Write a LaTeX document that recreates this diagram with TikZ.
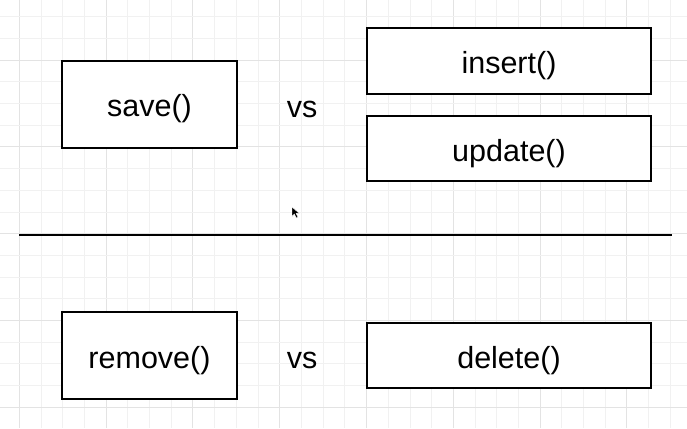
\documentclass[tikz,border=0pt]{standalone}
\usepackage{fontspec}
\setmainfont{Liberation Sans}
\definecolor{gridminor}{HTML}{F1F1F1}
\definecolor{gridmajor}{HTML}{E3E3E3}
\tikzset{
  box/.style={draw=black, line width=2pt, rectangle, inner sep=0pt, text height=25pt, text depth=0pt, font=\fontsize{30.5}{34}\selectfont},
  smallbox/.style={box, minimum width=175pt, minimum height=87pt},
  widebox/.style={box, minimum width=284pt, minimum height=65pt},
  vslabel/.style={inner sep=0pt, font=\fontsize{30.5}{34}\selectfont},
  minorline/.style={draw=gridminor, line width=0.8pt},
  majorline/.style={draw=gridmajor, line width=0.9pt},
  divider/.style={draw=black, line width=2pt}
}
\begin{document}
\begin{tikzpicture}[x=1pt,y=-1pt]
\useasboundingbox (0,0) rectangle (687,428);
\fill[white] (0,0) rectangle (687,428);
% grid
\foreach \i in {0,...,31}{
  \pgfmathtruncatemacro{\m}{mod(\i,4)}
  \ifnum\m=0
    \draw[majorline] ({19.3+21.7*\i},0) -- ({19.3+21.7*\i},428);
  \else
    \draw[minorline] ({19.3+21.7*\i},0) -- ({19.3+21.7*\i},428);
  \fi
}
\foreach \j in {0,...,19}{
  \pgfmathtruncatemacro{\m}{mod(\j,4)}
  \ifnum\m=2
    \draw[majorline] (0,{16.6+21.7*\j}) -- (687,{16.6+21.7*\j});
  \else
    \draw[minorline] (0,{16.6+21.7*\j}) -- (687,{16.6+21.7*\j});
  \fi
}
% boxes
\node[smallbox, fill=white] (save) at (149.5,104.3) {save()};
\node[widebox, fill=white] (insert) at (509,61) {insert()};
\node[widebox, fill=white] (update) at (509,148.5) {update()};
\node[smallbox, fill=white] (remove) at (149.5,355.5) {remove()};
\node[widebox, fill=white] (delete) at (509,355.5) {delete()};
\node[vslabel] (vs1) at (302,109) {vs};
\node[vslabel] (vs2) at (302,360) {vs};
% divider
\coordinate (dl) at (19,235);
\coordinate (dr) at (672,235);
\draw[divider] (dl) -- (dr);
% cursor
\filldraw[fill=black, draw=white, line width=0.4pt] (292,207) -- (292,216.5) -- (294.3,214) -- (296.3,218) -- (298,217.2) -- (296.1,213.3) -- (299.2,213.3) -- cycle;
\end{tikzpicture}
\end{document}
